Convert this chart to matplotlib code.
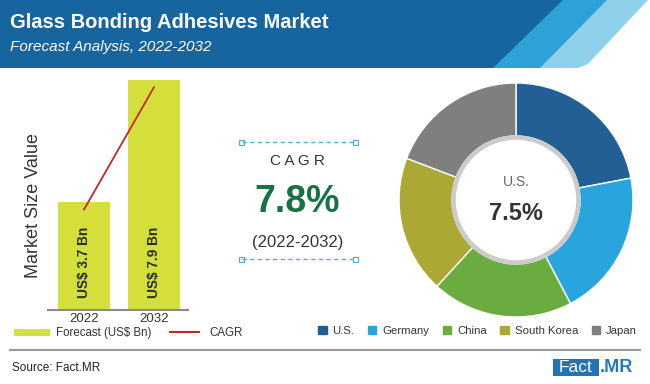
import matplotlib
matplotlib.use("Agg")
import matplotlib.pyplot as plt
from matplotlib.patches import Polygon, Rectangle, Circle, Patch
from matplotlib.lines import Line2D

plt.rcParams["font.family"] = ["Liberation Sans", "DejaVu Sans"]

W, H = 650, 384

# ── data ─────────────────────────────────────────────────────────────
years = ["2022", "2032"]
market = [3.7, 7.9]
bar_labels = ["US$ 3.7 Bn", "US$ 7.9 Bn"]
cagr_value = "7.8%"
cagr_period = "(2022-2032)"
countries = ["U.S.", "Germany", "China", "South Korea", "Japan"]
shares = [22.0, 20.3, 19.5, 19.0, 19.2]
country_colors = ["#215f94", "#29a4dd", "#6aac40", "#aba833", "#7f7f7f"]
focus_country, focus_value = "U.S.", "7.5%"

BAR_C = "#d4df3c"
LINE_C = "#c3272e"
TXT = "#333333"

fig = plt.figure(figsize=(W / 100, H / 100), dpi=100)
fig.patch.set_facecolor("white")

# overlay in pixel coords (header, texts, decorations)
bg = fig.add_axes([0, 0, 1, 1])
bg.set_xlim(0, W); bg.set_ylim(H, 0); bg.axis("off")

# header band + stripes
bg.add_patch(Polygon([(0, 0), (648, 0), (588, 64), (578, 68), (0, 68)],
                     closed=True, color="#8fd1ea", lw=0))
bg.add_patch(Polygon([(0, 0), (607, 0), (540, 68), (0, 68)],
                     closed=True, color="#2ea2d6", lw=0))
bg.add_patch(Polygon([(0, 0), (563, 0), (493, 68), (0, 68)],
                     closed=True, color="#16659f", lw=0))
bg.text(10, 22, "Glass Bonding Adhesives Market", color="white",
        fontsize=14.5, fontweight="bold", va="center", ha="left")
bg.text(10, 47, "Forecast Analysis, 2022-2032", color="white",
        fontsize=11, style="italic", va="center", ha="left")

# ── bar chart ────────────────────────────────────────────────────────
ax = fig.add_axes([48 / W, 1 - 310 / H, 140 / W, 230 / H])
x = list(range(len(years)))
ax.bar(x, market, width=0.74, color=BAR_C, zorder=2)
ax.plot(x, [m - 0.25 for m in market], color=LINE_C, lw=1.3, zorder=3)
for i, lab in enumerate(bar_labels):
    ax.text(i, 0.41, lab, rotation=90, ha="center", va="bottom",
            fontsize=9.8, fontweight="bold", color="#2b2b2b", zorder=4)
ax.set_xlim(-0.514, 1.486)
ax.set_ylim(0, max(market))
ax.set_xticks(x)
ax.set_xticklabels(years, fontsize=9.5, color=TXT)
ax.tick_params(axis="x", length=0, pad=2.5)
ax.set_yticks([])
for s in ["top", "right", "left"]:
    ax.spines[s].set_visible(False)
ax.spines["bottom"].set_color("#8a8a8a")
ax.spines["bottom"].set_linewidth(1.5)
ax.patch.set_alpha(0)

bg.text(33, 205, "Market Size Value", rotation=90, ha="center", va="center",
        fontsize=13, color=TXT)

fig.legend(handles=[Line2D([], [], color=BAR_C, lw=5),
                    Line2D([], [], color=LINE_C, lw=1.5)],
           labels=["Forecast (US$ Bn)", "CAGR"],
           loc="center left", bbox_to_anchor=(17 / W, 1 - 333 / H),
           ncol=2, frameon=False, fontsize=8.3, handlelength=2.5,
           handletextpad=0.9, columnspacing=1.6, borderpad=0, borderaxespad=0,
           labelcolor=TXT)

# ── CAGR block ───────────────────────────────────────────────────────
for yy in (142, 259):
    bg.plot([242, 354], [yy, yy], color="#5aaad0", lw=1, ls=(0, (3, 2.5)))
    for xx in (241, 355):
        bg.add_patch(Rectangle((xx - 2.5, yy - 2.5), 5, 5, fill=False,
                               edgecolor="#5aaad0", lw=0.9))
bg.text(297, 161, "C A G R", ha="center", va="center", fontsize=11, color=TXT)
bg.text(297, 202, cagr_value, ha="center", va="center", fontsize=27,
        fontweight="bold", color="#177245")
bg.text(298, 243, cagr_period, ha="center", va="center", fontsize=12,
        color=TXT)

# ── donut ────────────────────────────────────────────────────────────
dx = fig.add_axes([(516 - 120) / W, 1 - (200 + 120) / H, 240 / W, 240 / H])
dx.pie(shares, colors=country_colors, startangle=90, counterclock=False,
       radius=1.17, wedgeprops=dict(width=0.53, edgecolor="white", linewidth=1))
dx.add_patch(Circle((0, 0), 0.64, color="#cbcbcb", zorder=3))
dx.add_patch(Circle((0, 0), 0.595, color="white", zorder=4))
dx.text(0, 0.18, focus_country, ha="center", va="center", fontsize=10,
        color="#666666", zorder=5)
dx.text(0, -0.13, focus_value, ha="center", va="center", fontsize=17,
        fontweight="bold", color="#333333", zorder=5)
dx.set_xlim(-1.2, 1.2); dx.set_ylim(-1.2, 1.2)
dx.set_aspect("equal")
dx.axis("off")

fig.legend(handles=[Patch(color=c) for c in country_colors], labels=countries,
           loc="center left", bbox_to_anchor=(318 / W, 1 - 331 / H),
           ncol=5, frameon=False, fontsize=8.2, handlelength=0.75,
           handleheight=0.75, handletextpad=0.5, columnspacing=1.2,
           borderpad=0, borderaxespad=0, labelcolor=TXT)

# ── footer ───────────────────────────────────────────────────────────
bg.plot([10, 640], [350, 350], color="#9a9a9a", lw=1.5)
bg.text(12, 368, "Source: Fact.MR", ha="left", va="center", fontsize=8.5,
        color="#222222")
bg.add_patch(Rectangle((553, 359), 46, 17, color="#2474b3", lw=0))
bg.text(576, 367.5, "Fact", ha="center", va="center", fontsize=12.5,
        color="white")
bg.text(600, 367.5, ".MR", ha="left", va="center", fontsize=13,
        fontweight="bold", color="#2279bd")

fig.savefig("out.png", dpi=100, facecolor="white")
